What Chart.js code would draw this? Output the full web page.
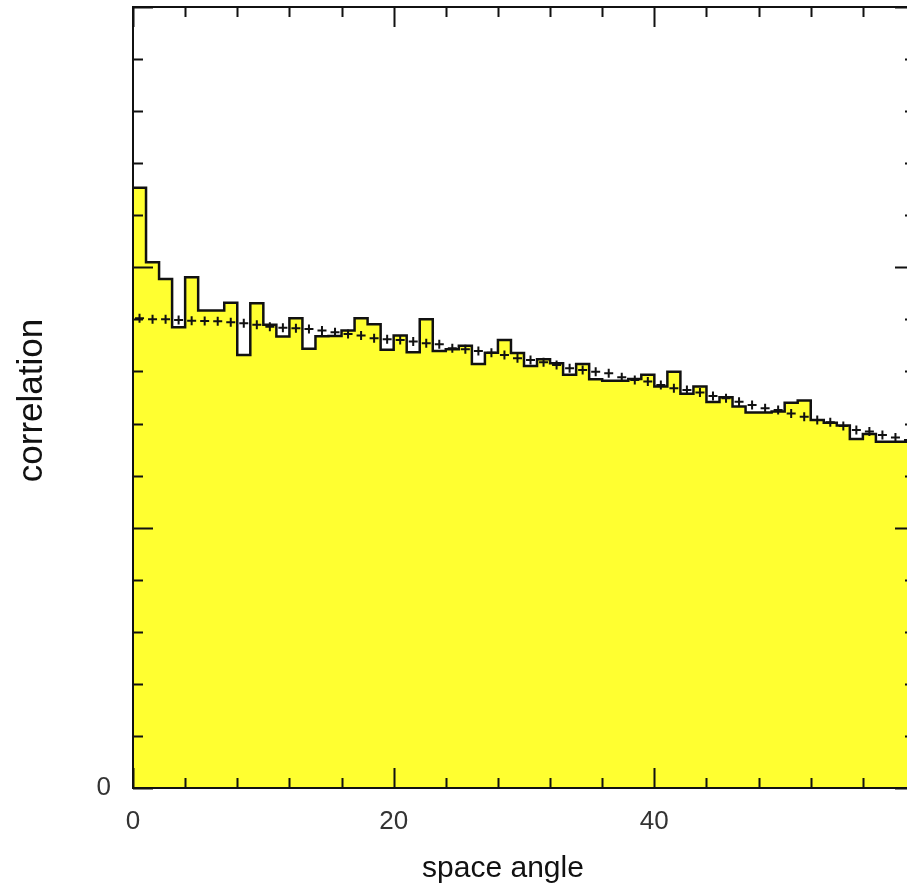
<!DOCTYPE html>
<html>
<head>
<meta charset="utf-8">
<script src="https://cdn.jsdelivr.net/npm/chart.js@4.4.1/dist/chart.umd.min.js"></script>
<style>
  html, body { margin: 0; padding: 0; background: #fff; overflow: hidden; }
  #wrap { position: relative; width: 907px; height: 891px; overflow: hidden; }
  #wrap canvas { position: absolute; left: 0; top: 0; }
</style>
</head>
<body>
<div id="wrap"><canvas id="c" width="930" height="891"></canvas></div>
<script>
// Lower edge of each space-angle bin (bins are 1 unit wide)
const binLow = [
  0, 1, 2, 3, 4, 5, 6, 7, 8, 9,
  10, 11, 12, 13, 14, 15, 16, 17, 18, 19,
  20, 21, 22, 23, 24, 25, 26, 27, 28, 29,
  30, 31, 32, 33, 34, 35, 36, 37, 38, 39,
  40, 41, 42, 43, 44, 45, 46, 47, 48, 49,
  50, 51, 52, 53, 54, 55, 56, 57, 58, 59
];
const binWidth = 1;

// Measured correlation per bin (filled histogram)
const measured = [
  2.306, 2.020, 1.955, 1.770, 1.962, 1.834, 1.834, 1.864, 1.663, 1.862,
  1.779, 1.734, 1.804, 1.687, 1.735, 1.736, 1.757, 1.804, 1.781, 1.683,
  1.738, 1.674, 1.801, 1.679, 1.685, 1.699, 1.629, 1.672, 1.721, 1.671,
  1.621, 1.647, 1.632, 1.587, 1.629, 1.570, 1.564, 1.564, 1.571, 1.587,
  1.542, 1.599, 1.514, 1.542, 1.483, 1.501, 1.465, 1.442, 1.442, 1.446,
  1.480, 1.488, 1.414, 1.403, 1.392, 1.341, 1.360, 1.330, 1.330, 1.330
];

// Reference expectation per bin (crosses)
const expected = [
  1.804, 1.801, 1.801, 1.798, 1.795, 1.794, 1.793, 1.789, 1.785, 1.779,
  1.772, 1.768, 1.766, 1.763, 1.757, 1.751, 1.744, 1.738, 1.728, 1.724,
  1.721, 1.715, 1.708, 1.705, 1.689, 1.685, 1.679, 1.672, 1.663, 1.651,
  1.644, 1.635, 1.625, 1.612, 1.606, 1.599, 1.593, 1.578, 1.567, 1.561,
  1.548, 1.536, 1.529, 1.519, 1.506, 1.497, 1.484, 1.471, 1.459, 1.452,
  1.439, 1.426, 1.414, 1.405, 1.391, 1.375, 1.369, 1.356, 1.346, 1.337
];

// Axis ticks
const xTickValues = [0, 20, 40];
const xTickLabels = ['0', '20', '40'];
const yTickValues = [0];
const yTickLabels = ['0'];
const xRange = [0, 60];
const yRange = [0, 3];
const xMinorStep = 4, xMajorStep = 20;
const yMinorStep = 0.2, yMajorStep = 1;

const xTitle = 'space angle';
const yTitle = 'correlation';

// Stepped outline points at bin edges, closing at the last upper edge
const stepPoints = binLow.map((x, i) => ({ x: x, y: measured[i] }));
stepPoints.push({ x: binLow[binLow.length - 1] + binWidth, y: measured[measured.length - 1] });
const crossPoints = binLow.map((x, i) => ({ x: x + binWidth / 2, y: expected[i] }));

// Frame with inward tick marks on all four sides, plus axis titles
const frameAndTitles = {
  id: 'frameAndTitles',
  afterDatasetsDraw(chart) {
    const { ctx, chartArea: a, scales: { x, y } } = chart;
    ctx.save();
    ctx.strokeStyle = '#111';
    ctx.lineWidth = 2;
    ctx.beginPath();
    ctx.moveTo(a.left, a.top); ctx.lineTo(a.right, a.top);
    ctx.lineTo(a.right, a.bottom); ctx.lineTo(a.left, a.bottom);
    ctx.closePath();
    ctx.stroke();

    ctx.beginPath();
    const nx = Math.round((xRange[1] - xRange[0]) / xMinorStep);
    for (let k = 0; k <= nx; k++) {
      const v = xRange[0] + k * xMinorStep;
      const px = Math.round(x.getPixelForValue(v)) + 0.5;
      const len = (Math.abs(v % xMajorStep) < 1e-9) ? 20 : 10;
      ctx.moveTo(px, a.bottom); ctx.lineTo(px, a.bottom - len);
      ctx.moveTo(px, a.top); ctx.lineTo(px, a.top + len);
    }
    const ny = Math.round((yRange[1] - yRange[0]) / yMinorStep);
    for (let k = 0; k <= ny; k++) {
      const v = yRange[0] + k * yMinorStep;
      const py = Math.round(y.getPixelForValue(v)) + 0.5;
      const len = (k % Math.round(yMajorStep / yMinorStep) === 0) ? 20 : 10;
      ctx.moveTo(a.left, py); ctx.lineTo(a.left + len, py);
      ctx.moveTo(a.right, py); ctx.lineTo(a.right - len, py);
    }
    ctx.stroke();

    ctx.fillStyle = '#111';
    ctx.font = '30px "Liberation Sans", Arial, sans-serif';
    ctx.textAlign = 'center';
    ctx.textBaseline = 'alphabetic';
    ctx.fillText(xTitle, a.left + 370, a.bottom + 89);

    ctx.font = '35px "Liberation Sans", Arial, sans-serif';
    ctx.translate(a.left - 101, (a.top + a.bottom) / 2 + 3);
    ctx.rotate(-Math.PI / 2);
    ctx.textBaseline = 'middle';
    ctx.fillText(yTitle, 0, 0);
    ctx.restore();
  }
};

new Chart(document.getElementById('c'), {
  type: 'line',
  data: {
    datasets: [
      {
        label: 'expected',
        data: crossPoints,
        showLine: false,
        pointStyle: 'cross',
        pointRadius: 4.5,
        pointBorderWidth: 2,
        pointBorderColor: '#111',
        pointBackgroundColor: '#111',
        order: 0
      },
      {
        label: 'measured',
        data: stepPoints,
        stepped: 'before',
        fill: 'origin',
        backgroundColor: '#ffff30',
        borderColor: '#111',
        borderWidth: 2.5,
        pointRadius: 0,
        order: 1
      }
    ]
  },
  plugins: [frameAndTitles],
  options: {
    responsive: false,
    devicePixelRatio: 1,
    animation: false,
    layout: { padding: { left: 0, top: 7, right: 15, bottom: 0 } },
    plugins: { legend: { display: false }, tooltip: { enabled: false } },
    scales: {
      x: {
        type: 'linear',
        min: xRange[0],
        max: xRange[1],
        grid: { display: false, drawTicks: false },
        border: { display: false },
        afterBuildTicks: (s) => { s.ticks = xTickValues.map(v => ({ value: v })); },
        afterFit: (s) => { s.height = 103; s.paddingLeft = 0; s.paddingRight = 0; },
        ticks: {
          autoSkip: false,
          maxRotation: 0,
          padding: 18,
          color: '#333',
          font: { family: '"Liberation Sans", Arial, sans-serif', size: 26 },
          callback: (v, i) => xTickLabels[i]
        }
      },
      y: {
        type: 'linear',
        min: yRange[0],
        max: yRange[1],
        grid: { display: false, drawTicks: false },
        border: { display: false },
        afterBuildTicks: (s) => { s.ticks = yTickValues.map(v => ({ value: v })); },
        afterFit: (s) => { s.width = 133; s.paddingTop = 0; s.paddingBottom = 0; },
        ticks: {
          autoSkip: false,
          padding: 22,
          color: '#333',
          font: { family: '"Liberation Sans", Arial, sans-serif', size: 26 },
          callback: (v, i) => yTickLabels[i]
        }
      }
    }
  }
});
</script>
</body>
</html>
